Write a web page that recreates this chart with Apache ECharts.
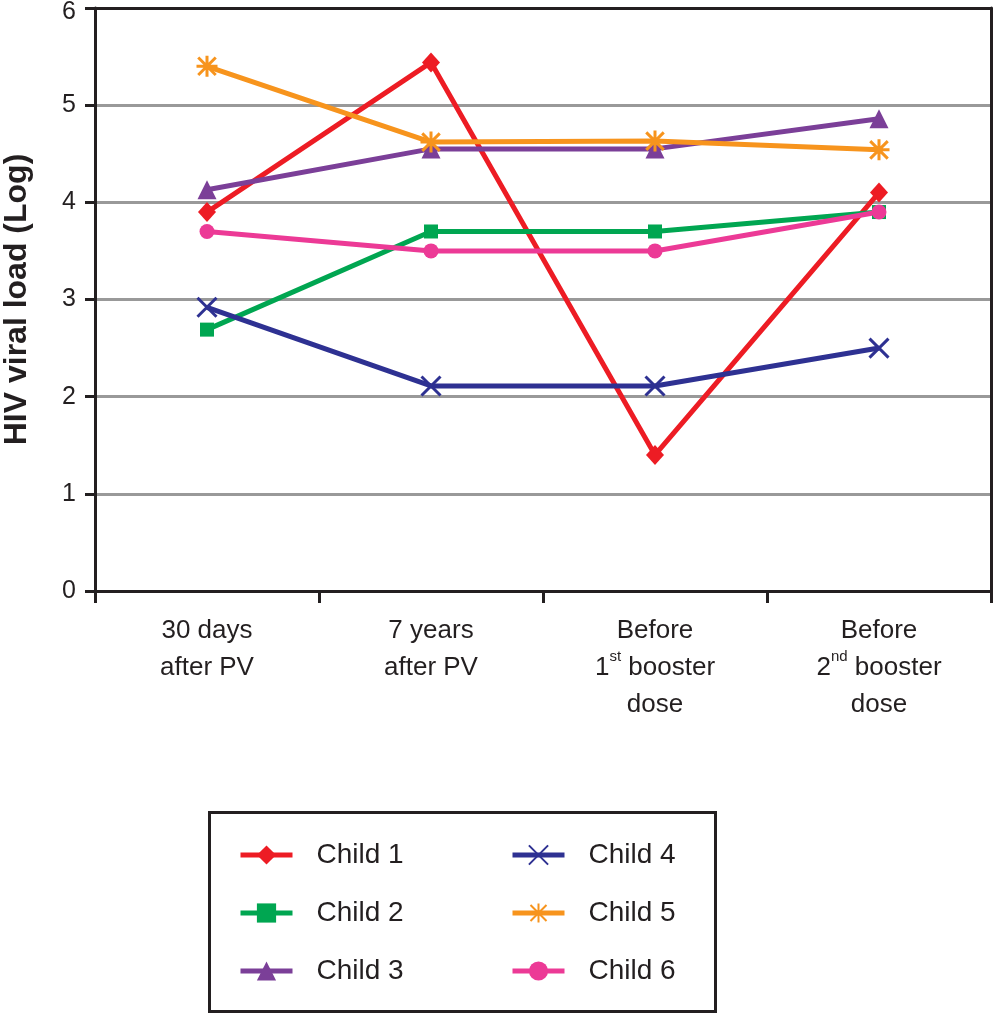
<!DOCTYPE html>
<html>
<head>
<meta charset="utf-8">
<script src="https://cdn.jsdelivr.net/npm/echarts@6/dist/echarts.min.js"></script>
<style>
html,body{margin:0;padding:0;background:#fff;}
#chart{width:994px;height:1014px;}
</style>
</head>
<body>
<div id="chart"></div>
<script>
const categories = ['30 days\nafter PV', '7 years\nafter PV', 'Before\n1{sup|st} booster\ndose', 'Before\n2{sup|nd} booster\ndose'];
const yTicks = [0, 1, 2, 3, 4, 5, 6];
const seriesNames = ['Child 1', 'Child 2', 'Child 3', 'Child 4', 'Child 5', 'Child 6'];
const child1 = [3.90, 5.44, 1.40, 4.10];
const child2 = [2.69, 3.70, 3.70, 3.90];
const child3 = [4.13, 4.55, 4.55, 4.86];
const child4 = [2.92, 2.11, 2.11, 2.50];
const child5 = [5.40, 4.62, 4.63, 4.54];
const child6 = [3.70, 3.50, 3.50, 3.90];
const seriesColors = ['#ED1C24', '#00A651', '#7B3F98', '#2E3192', '#F7941D', '#EC3A96'];

const X_PATH = 'path://M0,0L20,20M20,0L0,20';
const STAR_PATH = 'path://M0,0L20,20M20,0L0,20M10,-2L10,22M-2,10L22,10';

const FONT = '"Liberation Sans", Arial, Helvetica, sans-serif';
const allData = [child1, child2, child3, child4, child5, child6];
const symbols = ['diamond', 'rect', 'triangle', X_PATH, STAR_PATH, 'circle'];
const symbolSizes = [[18, 20], 14, 19, 19, 21, 15];

const series = seriesNames.map((name, i) => {
  const s = {
    name: name,
    type: 'line',
    data: allData[i],
    symbol: symbols[i],
    symbolSize: symbolSizes[i],
    showAllSymbol: true,
    color: seriesColors[i],
    lineStyle: { width: 5, color: seriesColors[i] },
    itemStyle: { color: seriesColors[i] },
    emphasis: { disabled: true },
    animation: false
  };
  if (i === 3 || i === 4) {
    s.itemStyle = { color: seriesColors[i], borderColor: seriesColors[i], borderWidth: 3 };
  }
  return s;
});

const chart = echarts.init(document.getElementById('chart'), null, { renderer: 'canvas' });
const legendCommon = {
  orient: 'vertical',
  itemWidth: 52,
  itemHeight: 24,
  itemGap: 28,
  padding: 0,
  selectedMode: false,
  lineStyle: { width: 5 },
  textStyle: { fontFamily: FONT, fontSize: 28, color: '#231F20', lineHeight: 30, padding: [0, 0, 0, 19] }
};
const frameAxisLine = { show: true, onZero: false, lineStyle: { color: '#231F20', width: 3 } };
chart.setOption({
  backgroundColor: '#fff',
  animation: false,
  grid: { left: 95, right: 3, top: 8, bottom: 423, outerBoundsMode: 'none', containLabel: false, show: false },
  xAxis: [{
    type: 'category',
    data: categories,
    boundaryGap: true,
    axisLine: { lineStyle: { color: '#231F20', width: 3 } },
    axisTick: { show: true, length: 12, lineStyle: { color: '#231F20', width: 3 } },
    axisLabel: {
      margin: 21,
      fontFamily: FONT,
      fontSize: 26,
      color: '#231F20',
      lineHeight: 37,
      interval: 0,
      rich: {
        sup: { fontFamily: FONT, fontSize: 15, color: '#231F20', verticalAlign: 'top', lineHeight: 37, padding: [0, 0, 6, 0] }
      }
    },
    z: 10
  }, {
    type: 'category',
    data: categories,
    position: 'top',
    axisLine: frameAxisLine,
    axisTick: { show: false },
    axisLabel: { show: false },
    splitLine: { show: false },
    z: 10
  }],
  yAxis: [{
    type: 'value',
    min: yTicks[0],
    max: yTicks[yTicks.length - 1],
    interval: 1,
    name: 'HIV viral load (Log)',
    nameLocation: 'middle',
    nameGap: 62,
    nameRotate: 90,
    nameTextStyle: { fontFamily: FONT, fontSize: 32, fontWeight: 'bold', color: '#231F20' },
    axisLine: { show: true, lineStyle: { color: '#231F20', width: 3 } },
    axisTick: { show: true, length: 10, lineStyle: { color: '#231F20', width: 3 } },
    axisLabel: {
      margin: 19, fontFamily: FONT, fontSize: 25, color: '#231F20',
      formatter: function (v) { return v === yTicks[yTicks.length - 1] ? '{top|' + v + '}' : String(v); },
      rich: { top: { fontFamily: FONT, fontSize: 25, color: '#231F20', padding: [8, 0, 0, 0] } }
    },
    splitLine: { show: true, lineStyle: { color: '#999999', width: 3 } },
    z: 1
  }, {
    type: 'value',
    min: yTicks[0],
    max: yTicks[yTicks.length - 1],
    interval: 1,
    position: 'right',
    axisLine: frameAxisLine,
    axisTick: { show: false },
    axisLabel: { show: false },
    splitLine: { show: false },
    z: 10
  }],
  legend: [
    Object.assign({}, legendCommon, { data: seriesNames.slice(0, 3), left: 238, top: 840 }),
    Object.assign({}, legendCommon, { data: seriesNames.slice(3, 6), left: 510, top: 840 })
  ],
  graphic: [
    { type: 'rect', shape: { x: 209.5, y: 812.5, width: 506, height: 199 }, style: { fill: 'none', stroke: '#231F20', lineWidth: 3 }, silent: true }
  ],
  series: series
});
</script>
</body>
</html>
